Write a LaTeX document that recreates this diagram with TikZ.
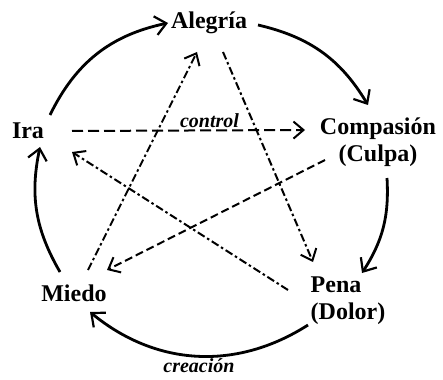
\documentclass[tikz,border=0pt]{standalone}
\usepackage{fontspec}
\setmainfont{Liberation Serif}
\usetikzlibrary{arrows.meta}
\begin{document}
\begin{tikzpicture}[x=1pt,y=-1pt,
  lbl/.style={font=\fontsize{24}{27}\selectfont\bfseries, inner sep=0pt},
  edgelbl/.style={font=\fontsize{20}{22}\selectfont\bfseries\itshape, inner sep=1pt},
  arc/.style={line width=2.8pt, -{Straight Barb[length=11pt,width=19pt,line width=2.2pt]}},
  dsh/.style={line width=2pt, dash pattern=on 11pt off 5pt, -{Straight Barb[length=10pt,width=17pt,line width=2pt]}},
  dshb/.style={line width=2pt, dash pattern=on 8pt off 4pt, -{Straight Barb[length=10pt,width=17pt,line width=2pt]}},
  dd/.style={line width=2pt, dash pattern=on 8pt off 3pt on 2.5pt off 3pt, -{Straight Barb[length=10pt,width=17pt,line width=2pt]}}]
\useasboundingbox (0,0) rectangle (443,379);
\node[lbl] (alegria) at (209,23) {Alegría};
\node[lbl] (ira) at (28,131) {Ira};
\node[lbl, align=center] (comp) at (378,142) {Compasión\\(Culpa)};
\node[lbl, align=left] (pena) at (348,301) {Pena\\(Dolor)};
\node[lbl] (miedo) at (74,293) {Miedo};
% outer circle arcs
\draw[arc] ([shift={(22,-16)}]ira.center) to[bend left=26] ([shift={(-41,0)}]alegria.center);
\draw[arc] ([shift={(49,2)}]alegria.center) to[bend left=23] ([shift={(-10,-37)}]comp.center);
\draw[arc] ([shift={(9,36)}]comp.center) to[bend left=18] ([shift={(14,-28)}]pena.center);
\draw[arc] ([shift={(-40,24)}]pena.center) to[bend left=36] node[pos=0.49, below=1pt, edgelbl, inner sep=0pt] {creación} ([shift={(16,19)}]miedo.center);
\draw[arc] ([shift={(-14,-21)}]miedo.center) to[bend left=21] ([shift={(12,16)}]ira.center);
% inner lines
\draw[dsh] ([shift={(44,0)}]ira.center) -- node[pos=0.59, above=1pt, edgelbl] {control} ([shift={(-73,-12)}]comp.center);
\draw[dd] ([shift={(14,-23)}]miedo.center) -- ([shift={(-12,29)}]alegria.center);
\draw[dd] ([shift={(14,29)}]alegria.center) -- ([shift={(-35,-39)}]pena.center);
\draw[dshb] ([shift={(-53,18)}]comp.center) -- ([shift={(33,-23)}]miedo.center);
\draw[dd] ([shift={(-60,-11)}]pena.center) -- ([shift={(44,21)}]ira.center);
\end{tikzpicture}
\end{document}
